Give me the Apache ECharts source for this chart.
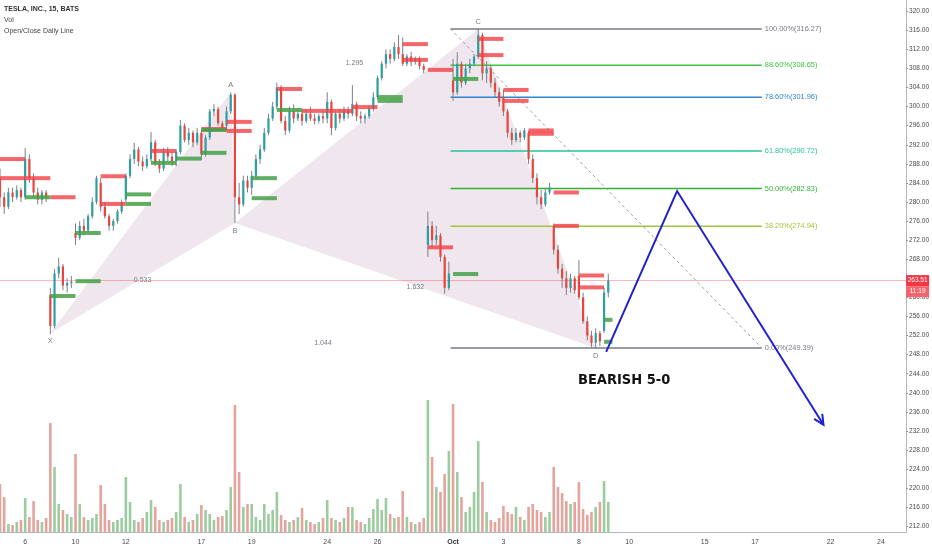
<!DOCTYPE html>
<html><head><meta charset="utf-8">
<script src="https://cdn.jsdelivr.net/npm/echarts@6/dist/echarts.min.js"></script>
<style>html,body{margin:0;padding:0;background:#fff}#c{width:932px;height:550px}</style>
</head><body><div id="c"></div>
<script>
// ---- categories (trading days, 6 bars per day) ----
const dayLabels = ['5','6','7','10','11','12','13','14','17','18','19','20','21','24','25','26','27','28','Oct','2','3','4','5','8','9','10','11','12','15','16','17','18','19','22','23','24','25'];
const shownDays = [1,3,5,8,10,13,15,18,20,23,25,28,30,33,35];
const barsPerDay = 6;
const totalBars = 217;

// ---- candles [open, close, low, high] ----
const candles = [
 // Sep 5
 [285,281,279,287],[281,279,277.5,282],[279,282,278.5,283],[282,281,280,283],[281,282.5,280.5,283.5],[282.5,281,280,283],
 // Sep 6
 [281,289,280.5,291.3],[289,285,284,290],[285,282,281,286],[282,280.5,279.5,283],[280.5,282,279.5,282.5],[282,281,280,282.5],
 // Sep 7
 [260.5,254,252.3,262],[254,265,253.5,266],[265,266.5,264,268.3],[266.5,262.5,261.5,267],[262.5,263,261,264],[263,263.3,262,264.5],
 // Sep 10
 [273.5,272.5,271,275.5],[272.5,275,272,276],[275,274,273,276.5],[274,277,273.5,277.5],[277,280,276.5,281],[280,285,279.5,285.5],
 // Sep 11
 [284,279,278,285],[279,277,276.5,280],[277,275,274,277.5],[275,276,274,276.5],[276,278,275.5,278.5],[278,280,277.5,280.5],
 // Sep 12
 [280.5,285.5,280,286],[285.5,289,285,290],[289,291,288,292.4],[291,288.5,287.5,291.5],[288.5,287.5,286.5,289.5],[287.5,289,287,290],
 // Sep 13
 [289,292.5,288.5,294.7],[292.5,288,287.5,293],[288,287,286.1,289],[287,290.5,286.5,291.3],[290.5,289.5,288.5,291.5],[289.5,288.5,287.5,290.5],
 // Sep 14
 [288.5,290.5,287.5,291],[290.5,296,290,297.2],[296,293,292.5,296.5],[293,294.5,292,295.5],[294.5,292.5,291.5,295],[292.5,294.5,292,295.5],
 // Sep 17
 [294.5,290,288.8,295],[290,293.5,289.5,294],[293.5,299,293,299.5],[299,299.5,298,300.5],[299.5,296.5,296,300],[296.5,295.5,295,297],
 // Sep 18
 [296,299,295,300],[299,302.5,298.5,303],[302.5,281,275.6,302.8],[281,279.5,277.5,284],[279.5,284.5,279,285.5],[284.5,283,282,285.5],
 // Sep 19
 [283,285.5,281.5,286.5],[285.5,289,285,290],[289,291,288,292],[291,294.5,290.5,295.5],[294.5,297.5,294,298.5],[297.5,300,297,301],
 // Sep 20
 [300,304,299.5,305],[304,297,296.5,304.5],[297,295,294,298],[295,299,294.5,300],[299,297.5,296.5,300.5],[297.5,298.5,297,299.5],
 // Sep 21
 [298.5,297,296,299.5],[297,298.5,296.5,299.5],[298.5,297.5,297,300],[297.5,297,296.3,298.5],[297,298,296.5,298.5],[298,297.5,296.5,299],
 // Sep 24
 [297.5,301,296.5,303],[301,295.5,294,301.5],[295.5,298.5,295,299],[298.5,297.5,296.5,299.5],[297.5,299,297,300],[299,298.5,297.5,300],
 // Sep 25
 [298.5,300.5,298,304.5],[300.5,298,297,301],[298,297.5,296.5,299],[297.5,298,296.5,298.5],[298,299.5,297.5,300],[299.5,302,299,303],
 // Sep 26
 [302,306,301.5,306.5],[306,309,305.5,309.5],[309,311,308,312],[311,310,309,312],[310,312.5,309.5,313.5],[312.5,311,310,315],
 // Sep 27
 [311,309,308.5,314.5],[309,310.5,308.5,311],[310.5,309.5,308.5,311.5],[309.5,310,308.8,310.5],[310,308.5,307.8,310.5],[308.5,307.7,307,309],
 // Sep 28
 [271,275,268.5,278],[275,272,270.5,276],[272,273,271,275],[273,268.5,267.5,273.5],[268.5,262,260.8,269],[262,265,261.5,267.5],
 // Oct 1
 [305.5,303,301.2,310],[303,309,302.5,311.4],[309,305,304,309.5],[305,308,304.5,309],[308,309,307,310],[309,310.5,308.5,311],
 // Oct 2
 [310.5,315,310,316.27],[315,307,305.5,315.5],[307,308,305,309.5],[308,305,304,308.5],[305,303,302,306],[303,301,300,304],
 // Oct 3
 [302,299,298,303.5],[299,294.5,293.5,299.5],[294.5,293,292,295.5],[293,294.5,292.5,295.5],[294.5,293.5,292.5,295],[293.5,295,293,295.5],
 // Oct 4
 [294.5,289,288,295],[289,285,284,290],[285,281,279.5,286],[281,279.5,278.5,282.5],[279.5,282,279,283],[282,283,281.5,284],
 // Oct 5
 [275,270,269,275.5],[270,266,265,271],[266,264,262,267],[264,262,260.5,265.5],[262,264,261,265],[264,261.5,260.8,264.5],
 // Oct 8
 [264.5,260,259.5,267.8],[260,255,254.5,261],[255,252,251,256],[252,250.5,249.6,253],[250.5,252.5,249.39,253.5],[252.5,250.8,249.8,253],
 // Oct 9
 [253,261,252.5,262],[261,263.51,260,265]
];

// ---- volume (thousand shares) ----
const volumes = [
 480,350,80,70,100,120,
 340,150,310,120,100,140,
 1090,650,280,220,180,150,
 780,280,150,120,140,180,
 470,280,120,100,120,140,
 550,300,120,100,140,200,
 320,250,120,100,120,140,
 200,480,150,100,120,180,
 270,220,180,120,150,160,
 220,450,1270,600,250,280,
 280,150,120,280,180,220,
 400,170,120,100,120,150,
 240,120,100,80,100,140,
 320,140,120,100,140,250,
 250,120,100,80,140,230,
 330,220,340,180,140,150,
 410,150,100,80,100,140,
 1320,750,450,400,580,810,
 1280,600,350,200,250,400,
 910,500,200,120,100,140,
 260,200,180,250,150,120,
 250,280,220,200,150,200,
 650,450,390,310,280,300,
 500,230,170,200,250,300,
 510,300
];

// ---- price axis ticks ----
const priceTicks = [212,216,220,224,228,232,236,240,244,248,252,256,260,264,268,272,276,280,284,288,292,296,300,304,308,312,316,320];
const lastPrice = 263.51;
const lastTime = '11:19';

// ---- Open/Close daily line levels [day, price] ----
const dailyRed = [[0,289.0],[0,285.0],[1,285.0],[2,281.0],[4,285.4],[4,279.6],[6,290.7],[8,295.3],[9,296.8],[9,294.9],[11,303.7],[12,299.1],[13,299.1],[14,299.9],[16,313.1],[16,309.8],[17,307.7],[17,270.5],[19,314.2],[19,310.8],[20,303.5],[20,301.2],[21,295.0],[21,294.3],[22,282.0],[22,275.0],[23,264.6],[23,262.1]];
const dailyGreen = [[1,281.0],[2,260.3],[3,273.5],[3,263.4],[5,281.6],[5,279.6],[6,288.2],[7,289.1],[8,290.3],[8,295.1],[10,285.0],[10,280.8],[11,299.3],[15,302.0],[15,301.2],[18,305.8],[18,264.9],[24,255.3],[24,250.7]];

// ---- Fibonacci retracement ----
const fibLevels = ['100.00%','88.60%','78.60%','61.80%','50.00%','38.20%','0.00%'];
const fibPrices = [316.27,308.65,301.96,290.72,282.83,274.94,249.39];
const fibColors = ['#787b86','#3fc23f','#2f86c9','#25c29c','#33b233','#a4c43a','#787b86'];
const fibRange = [107.4, 181.6];

// ---- XABCD pattern ----
const patternNames = ['X','A','B','C','D'];
const patternIdx = [12,55,56,114,142];
const patternPrice = [252.5,303.0,275.6,316.27,249.39];
const patternAbove = [false,true,false,true,false];
const ratioLabels = ['0.533','1.295','1.632','1.044'];
const ratioPairs = [[0,2],[1,3],[2,4],[0,4]];

// ---- projected move ----
const projIdx = [144.5,161.4,196.3];
const projPrice = [248.6,282.3,233.3];

// ---- build ----
const FONT = '"Liberation Sans", Arial, sans-serif';
const UP = '#2b9fa3', DOWN = '#e8453c';
const categories = [];
for (let d = 0; d < dayLabels.length; d++) for (let b = 0; b < barsPerDay; b++) categories.push(dayLabels[d] + '|' + b);
categories.length = totalBars;

const chart = echarts.init(document.getElementById('c'), null, {renderer:'canvas'});
const option = {
  animation: false,
  backgroundColor: '#ffffff',
  grid: {left: 0, right: 23, top: 0, bottom: 18, containLabel: false},
  xAxis: [{
    type: 'category', data: categories, boundaryGap: false,
    axisLine: {show: true, onZero: false, lineStyle: {color: '#b2b5be'}},
    axisTick: {show: false}, splitLine: {show: false},
    axisLabel: {
      interval: (i) => i % barsPerDay === 0 && shownDays.indexOf(i / barsPerDay) >= 0,
      formatter: (v) => { const s = v.split('|')[0]; return s === 'Oct' ? '{b|Oct}' : s; },
      fontSize: 7, color: '#4a4a4a', margin: 7, fontFamily: FONT,
      rich: {b: {fontWeight: 'bold', fontSize: 7, color: '#333', fontFamily: FONT}}
    }
  }, {
    type: 'value', min: 0, max: totalBars - 1, show: false
  }],
  yAxis: [{
    type: 'value', position: 'right', min: 210.82, max: 322.35, scale: true,
    axisLine: {show: true, onZero: false, lineStyle: {color: '#b2b5be'}},
    axisTick: {show: true, length: 2, customValues: priceTicks, lineStyle: {color: '#9598a1'}},
    splitLine: {show: false},
    axisLabel: {customValues: priceTicks, formatter: (v) => v.toFixed(2), fontSize: 6.5, color: '#4a4a4a', margin: 3, fontFamily: FONT}
  }, {
    type: 'value', min: 0, max: 5320, show: false
  }],
  graphic: [
    {type: 'text', left: 4, top: 6, style: {text: 'TESLA, INC., 15, BATS', fill: '#333', font: 'bold 7px ' + FONT}},
    {type: 'text', left: 4, top: 17, style: {text: 'Vol', fill: '#444', font: '7px ' + FONT}},
    {type: 'text', left: 4, top: 28, style: {text: 'Open/Close Daily Line', fill: '#444', font: '7px ' + FONT}},
    {type: 'text', left: 578, top: 373, style: {text: 'BEARISH 5-0', fill: '#111', font: 'bold 14.5px "Liberation Sans Narrow", "DejaVu Sans Condensed", sans-serif'}}
  ],
  series: [
    { // volume
      type: 'bar', xAxisIndex: 0, yAxisIndex: 1, data: volumes, barWidth: 2.6, z: 1, silent: true,
      itemStyle: {color: (p) => candles[p.dataIndex][1] >= candles[p.dataIndex][0] ? 'rgba(90,168,96,0.6)' : 'rgba(205,88,76,0.55)'}
    },
    { // pattern fill + labels
      type: 'custom', xAxisIndex: 1, yAxisIndex: 0, z: 2, silent: true, data: [[0, 250]],
      renderItem: (params, api) => {
        const pt = (k) => api.coord([patternIdx[k], patternPrice[k]]);
        const fill = 'rgba(150,90,140,0.15)';
        const ch = [
          {type: 'polygon', shape: {points: [pt(0), pt(1), pt(2)]}, style: {fill: fill}},
          {type: 'polygon', shape: {points: [pt(2), pt(3), pt(4)]}, style: {fill: fill}}
        ];
        patternNames.forEach((n, k) => {
          const p = pt(k);
          ch.push({type: 'text', x: p[0], y: p[1] + (patternAbove[k] ? -7 : 8),
            style: {text: n, fill: '#787b86', font: '7.5px ' + FONT, textAlign: 'center', textVerticalAlign: 'middle', align: 'center', verticalAlign: 'middle'}});
        });
        ratioLabels.forEach((r, k) => {
          const a = pt(ratioPairs[k][0]), b = pt(ratioPairs[k][1]);
          ch.push({type: 'text', x: (a[0] + b[0]) / 2, y: (a[1] + b[1]) / 2 + 2,
            style: {text: r, fill: '#787b86', font: '7px ' + FONT, textAlign: 'center', textVerticalAlign: 'middle', align: 'center', verticalAlign: 'middle'}});
        });
        return {type: 'group', children: ch};
      }
    },
    { // fib levels
      type: 'custom', xAxisIndex: 1, yAxisIndex: 0, z: 3, silent: true,
      data: fibPrices.map((p, i) => [i, p]),
      renderItem: (params, api) => {
        const i = params.dataIndex, p = fibPrices[i];
        const a = api.coord([fibRange[0], p]), b = api.coord([fibRange[1], p]);
        return {type: 'group', children: [
          {type: 'line', shape: {x1: a[0], y1: a[1], x2: b[0], y2: b[1]}, style: {stroke: fibColors[i], lineWidth: 1.5}},
          {type: 'text', x: b[0] + 3, y: b[1], style: {text: fibLevels[i] + '(' + p.toFixed(2) + ')', fill: fibColors[i], font: '7.4px ' + FONT, textAlign: 'left', textVerticalAlign: 'middle', align: 'left', verticalAlign: 'middle'}}
        ]};
      }
    },
    { // fib diagonal
      type: 'line', xAxisIndex: 1, yAxisIndex: 0, z: 3, silent: true, symbol: 'none',
      data: [[fibRange[0], fibPrices[0]], [fibRange[1], fibPrices[fibPrices.length - 1]]],
      lineStyle: {color: '#9a9ca5', width: 1, type: [3, 3]}
    },
    { // candles
      type: 'custom', xAxisIndex: 0, yAxisIndex: 0, z: 4, silent: true,
      data: candles.map((k, i) => [i, k[0], k[1], k[2], k[3]]),
      encode: {x: 0, y: [1, 2, 3, 4]},
      renderItem: (params, api) => {
        const i = api.value(0), o = api.value(1), c = api.value(2), l = api.value(3), h = api.value(4);
        const pO = api.coord([i, o]), pC = api.coord([i, c]), pL = api.coord([i, l]), pH = api.coord([i, h]);
        const w = 2.2;
        const top = Math.min(pO[1], pC[1]);
        const hh = Math.max(1, Math.abs(pO[1] - pC[1]));
        return {type: 'group', children: [
          {type: 'line', shape: {x1: pH[0], y1: pH[1], x2: pL[0], y2: pL[1]}, style: {stroke: '#7d7f86', lineWidth: 1}},
          {type: 'rect', shape: {x: pO[0] - w / 2, y: top, width: w, height: hh}, style: {fill: c >= o ? UP : DOWN}}
        ]};
      }
    },
    { // daily open/close lines
      type: 'custom', xAxisIndex: 1, yAxisIndex: 0, z: 5, silent: true,
      data: dailyRed.map((d) => [d[0], d[1], 0]).concat(dailyGreen.map((d) => [d[0], d[1], 1])),
      renderItem: (params, api) => {
        const d = api.value(0), p = api.value(1), g = api.value(2);
        const x0 = d * barsPerDay, x1 = Math.min((d + 1) * barsPerDay, candles.length);
        const a = api.coord([x0, p]), b = api.coord([x1, p]);
        return {type: 'line', shape: {x1: a[0], y1: a[1], x2: b[0], y2: b[1]},
          style: {stroke: g ? 'rgba(67,160,71,0.85)' : 'rgba(242,64,70,0.8)', lineWidth: 4, lineCap: 'butt'}};
      }
    },
    { // projected move
      type: 'custom', xAxisIndex: 1, yAxisIndex: 0, z: 6, silent: true, data: [[0, 250]],
      renderItem: (params, api) => {
        const pts = projIdx.map((x, k) => api.coord([x, projPrice[k]]));
        const e = pts[pts.length - 1], s = pts[pts.length - 2];
        const ang = Math.atan2(e[1] - s[1], e[0] - s[0]);
        const L = 11, sp = 0.45;
        const h1 = [e[0] - L * Math.cos(ang - sp), e[1] - L * Math.sin(ang - sp)];
        const h2 = [e[0] - L * Math.cos(ang + sp), e[1] - L * Math.sin(ang + sp)];
        const st = {stroke: '#2121cf', lineWidth: 2, fill: null};
        return {type: 'group', children: [
          {type: 'polyline', shape: {points: pts}, style: st},
          {type: 'polyline', shape: {points: [h1, e, h2]}, style: st}
        ]};
      }
    },
    { // last price line
      type: 'line', xAxisIndex: 1, yAxisIndex: 0, z: 7, silent: true, symbol: 'none',
      data: [[0, lastPrice], [totalBars - 1, lastPrice]],
      lineStyle: {opacity: 0},
      markLine: {
        symbol: 'none', silent: true, animation: false,
        lineStyle: {color: 'rgba(242,54,69,0.35)', width: 1, type: 'solid'},
        label: {
          show: true, position: 'end', distance: 0, offset: [0, 5.5],
          formatter: '{a|' + lastPrice.toFixed(2) + '}\n{b|' + lastTime + '}',
          rich: {
            a: {backgroundColor: '#f23645', color: '#fff', fontSize: 6.5, fontFamily: FONT, width: 21, align: 'center', padding: [2, 1, 2, 1], lineHeight: 11},
            b: {backgroundColor: '#f4646b', color: '#fff', fontSize: 6.5, fontFamily: FONT, width: 21, align: 'center', padding: [2, 1, 2, 1], lineHeight: 11}
          }
        },
        data: [{yAxis: lastPrice}]
      }
    }
  ]
};
chart.setOption(option);
</script></body></html>
